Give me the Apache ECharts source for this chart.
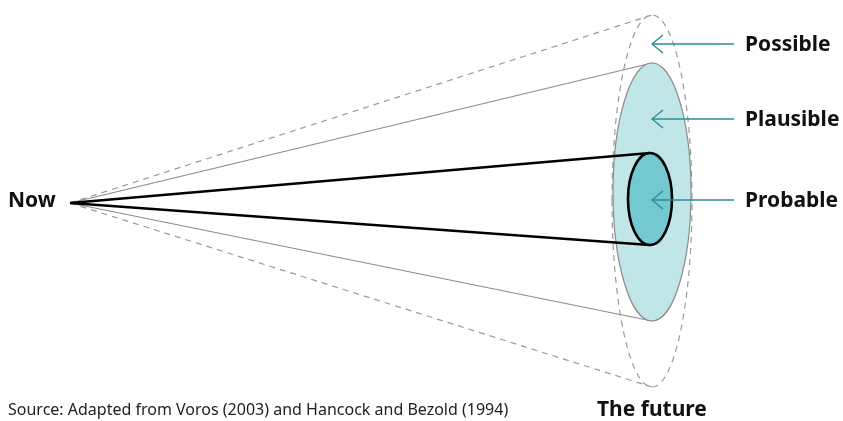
<!DOCTYPE html>
<html>
<head>
<meta charset="utf-8">
<title>Futures cone</title>
<script src="https://cdn.jsdelivr.net/npm/echarts@6/dist/echarts.min.js"></script>
<style>
  html, body { margin: 0; padding: 0; background: #fff; }
  #chart { width: 843px; height: 421px; }
</style>
</head>
<body>
<div id="chart"></div>
<script>
// the cone, in plot units (x right, y down)
var nowPoint = [70, 203];
var scenarios = ['Possible', 'Plausible', 'Probable'];
var futureX = [652, 652, 650];
var futureY = [201, 192, 199];
var spreadX = [40, 39, 22];
var spreadY = [186, 129, 46];
var arrowY = [44, 119, 200];
var arrowFromX = 734;

var chart = echarts.init(document.getElementById('chart'));
var font = '"Noto Sans", "Open Sans", sans-serif';

// look of each scenario, by index
var looks = [
    { stroke: '#9a9a9a', fill: null, width: 1.2, dash: [6, 5] },
    { stroke: '#8c8c8c', fill: '#c0e6e7', width: 1.2, dash: null },
    { stroke: '#000000', fill: '#74c9d1', width: 2.6, dash: null }
];

var coneData = scenarios.map(function (name, i) {
    return [futureX[i], futureY[i], spreadX[i], spreadY[i], name];
});
var arrowData = scenarios.map(function (name, i) {
    return [futureX[0], arrowY[i], name];
});

var option = {
    animation: false,
    grid: { left: 0, right: 0, top: 0, bottom: 0 },
    xAxis: { type: 'value', min: 0, max: 843, show: false },
    yAxis: { type: 'value', min: 0, max: 421, inverse: true, show: false },
    series: [
        {
            type: 'custom',
            coordinateSystem: 'cartesian2d',
            data: coneData,
            renderItem: function (params, api) {
                var i = params.dataIndex;
                var look = looks[i];
                var c = api.coord([api.value(0), api.value(1)]);
                var edge = api.coord([api.value(0) + api.value(2), api.value(1) + api.value(3)]);
                var rx = Math.abs(edge[0] - c[0]);
                var ry = Math.abs(edge[1] - c[1]);
                var apex = api.coord(nowPoint);
                var lineStyle = { stroke: look.stroke, lineWidth: look.width, lineDash: look.dash, fill: null };
                return {
                    type: 'group',
                    children: [
                        { type: 'line', shape: { x1: apex[0], y1: apex[1], x2: c[0], y2: c[1] - ry }, style: lineStyle },
                        { type: 'line', shape: { x1: apex[0], y1: apex[1], x2: c[0], y2: c[1] + ry }, style: lineStyle },
                        {
                            type: 'ellipse',
                            shape: { cx: c[0], cy: c[1], rx: rx, ry: ry },
                            style: { stroke: look.stroke, lineWidth: look.width, lineDash: look.dash, fill: look.fill || 'none' }
                        }
                    ]
                };
            }
        },
        {
            type: 'custom',
            coordinateSystem: 'cartesian2d',
            data: arrowData,
            renderItem: function (params, api) {
                var tip = api.coord([api.value(0), api.value(1)]);
                var tail = api.coord([arrowFromX, api.value(1)]);
                var s = { stroke: '#2b8c92', lineWidth: 1.3, fill: null };
                return {
                    type: 'group',
                    children: [
                        { type: 'line', shape: { x1: tail[0], y1: tail[1], x2: tip[0], y2: tip[1] }, style: s },
                        { type: 'polyline', shape: { points: [[tip[0] + 11, tip[1] - 9], [tip[0], tip[1]], [tip[0] + 11, tip[1] + 9]] }, style: s },
                        {
                            type: 'text',
                            style: {
                                x: tail[0] + 11, y: tip[1] + 1, text: api.value(2),
                                font: 'bold 21px ' + font, fill: '#111', verticalAlign: 'middle'
                            }
                        }
                    ]
                };
            }
        }
    ],
    graphic: [
        { type: 'text', left: 8, top: 191, style: { text: 'Now', font: 'bold 21px ' + font, fill: '#111' } },
        { type: 'text', left: 597, top: 400, style: { text: 'The future', font: 'bold 21px ' + font, fill: '#111' } },
        { type: 'text', left: 8, top: 402, style: { text: 'Source: Adapted from Voros (2003) and Hancock and Bezold (1994)', font: '16px ' + font, fill: '#222' } }
    ]
};
chart.setOption(option);
</script>
</body>
</html>
